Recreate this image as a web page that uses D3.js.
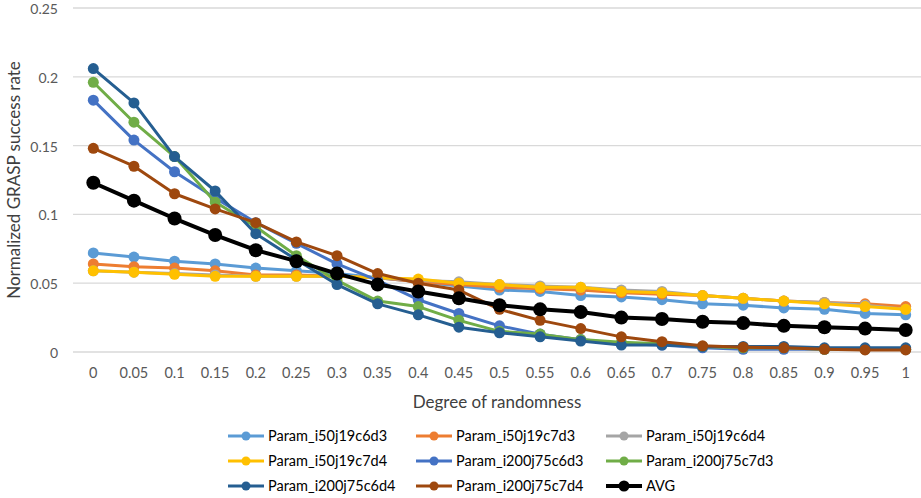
<!DOCTYPE html>
<html>
<head>
<meta charset="utf-8">
<script src="https://cdn.jsdelivr.net/npm/d3@7"></script>
<style>
  body { margin: 0; background: #fff; }
  svg { font-family: Lato, "Open Sans", sans-serif; }
</style>
</head>
<body>
<svg id="chart" width="921" height="498"></svg>
<script>
// degree of randomness (x categories)
const categories = ["0","0.05","0.1","0.15","0.2","0.25","0.3","0.35","0.4","0.45","0.5",
                    "0.55","0.6","0.65","0.7","0.75","0.8","0.85","0.9","0.95","1"];

const seriesNames = ["Param_i50j19c6d3","Param_i50j19c7d3","Param_i50j19c6d4",
                     "Param_i50j19c7d4","Param_i200j75c6d3","Param_i200j75c7d3",
                     "Param_i200j75c6d4","Param_i200j75c7d4","AVG"];

const i50j19c6d3  = [0.072,0.069,0.066,0.064,0.061,0.059,0.057,0.054,0.051,0.048,0.045,0.044,0.041,0.040,0.038,0.035,0.034,0.032,0.031,0.028,0.027];
const i50j19c7d3  = [0.064,0.062,0.061,0.059,0.056,0.056,0.055,0.054,0.051,0.049,0.047,0.046,0.045,0.043,0.042,0.041,0.039,0.037,0.036,0.035,0.033];
const i50j19c6d4  = [0.059,0.058,0.057,0.056,0.055,0.055,0.055,0.054,0.052,0.051,0.049,0.048,0.047,0.045,0.044,0.041,0.039,0.037,0.036,0.034,0.031];
const i50j19c7d4  = [0.059,0.058,0.0565,0.055,0.055,0.055,0.055,0.054,0.053,0.050,0.049,0.047,0.047,0.044,0.043,0.041,0.039,0.037,0.035,0.033,0.031];
const i200j75c6d3 = [0.183,0.154,0.131,0.112,0.094,0.079,0.064,0.052,0.038,0.028,0.019,0.013,0.009,0.006,0.005,0.003,0.002,0.002,0.002,0.002,0.002];
const i200j75c7d3 = [0.196,0.167,0.142,0.109,0.091,0.070,0.052,0.037,0.033,0.023,0.015,0.013,0.009,0.007,0.006,0.004,0.003,0.003,0.002,0.002,0.002];
const i200j75c6d4 = [0.206,0.181,0.142,0.117,0.086,0.067,0.049,0.035,0.027,0.018,0.014,0.011,0.008,0.005,0.005,0.004,0.004,0.004,0.003,0.003,0.003];
const i200j75c7d4 = [0.148,0.135,0.115,0.104,0.094,0.080,0.070,0.057,0.050,0.045,0.031,0.023,0.017,0.011,0.0075,0.0045,0.0035,0.003,0.002,0.0015,0.0015];
const avg         = [0.123,0.110,0.097,0.085,0.074,0.066,0.057,0.049,0.044,0.039,0.034,0.031,0.029,0.025,0.024,0.022,0.021,0.019,0.018,0.017,0.016];

const yTicks = [0, 0.05, 0.1, 0.15, 0.2, 0.25];

const values = [i50j19c6d3, i50j19c7d3, i50j19c6d4, i50j19c7d4,
                i200j75c6d3, i200j75c7d3, i200j75c6d4, i200j75c7d4, avg];
const colors = ["#5B9BD5","#ED7D31","#A5A5A5","#FFC000","#4472C4","#70AD47","#255E91","#9E480E","#000000"];

const svg = d3.select("#chart");
const plotLeft = 73, plotRight = 926, plotTop = 8, plotBottom = 352;

const x = d3.scalePoint().domain(categories).range([plotLeft, plotRight]).padding(0.5);
const y = d3.scaleLinear().domain([0, 0.25]).range([plotBottom, plotTop]);

// gridlines
svg.append("g")
  .selectAll("line")
  .data(yTicks)
  .join("line")
  .attr("x1", plotLeft).attr("x2", 921)
  .attr("y1", d => y(d)).attr("y2", d => y(d))
  .attr("stroke", "#d9d9d9").attr("stroke-width", 1.3);

// y tick labels
svg.append("g")
  .selectAll("text")
  .data(yTicks)
  .join("text")
  .attr("x", 58).attr("y", d => y(d) + 1)
  .attr("dy", "0.35em")
  .attr("text-anchor", "end")
  .attr("font-size", 14)
  .attr("fill", "#595959")
  .text(d => d);

// x tick labels
svg.append("g")
  .selectAll("text")
  .data(categories)
  .join("text")
  .attr("x", d => x(d)).attr("y", 378)
  .attr("text-anchor", "middle")
  .attr("font-size", 14.5)
  .attr("fill", "#595959")
  .text(d => d);

// axis titles
svg.append("text")
  .attr("x", (plotLeft + 921) / 2).attr("y", 408)
  .attr("text-anchor", "middle")
  .attr("font-size", 17)
  .attr("fill", "#404040")
  .text("Degree of randomness");

svg.append("text")
  .attr("transform", "translate(14," + ((plotTop + plotBottom) / 2) + ") rotate(-90)")
  .attr("text-anchor", "middle")
  .attr("dy", "0.35em")
  .attr("font-size", 17)
  .attr("fill", "#404040")
  .text("Normalized GRASP success rate");

// lines and markers
const line = d3.line().x((d, i) => x(categories[i])).y(d => y(d));

values.forEach((vals, k) => {
  const isAvg = k === values.length - 1;
  const g = svg.append("g");
  g.append("path")
    .datum(vals)
    .attr("d", line)
    .attr("fill", "none")
    .attr("stroke", colors[k])
    .attr("stroke-width", isAvg ? 4 : 3)
    .attr("stroke-linejoin", "round");
  g.selectAll("circle")
    .data(vals)
    .join("circle")
    .attr("cx", (d, i) => x(categories[i]))
    .attr("cy", d => y(d))
    .attr("r", isAvg ? 7 : 5.5)
    .attr("fill", colors[k]);
});

// legend
const legCols = [228, 416, 606];
const legRows = [436, 461, 486];
const leg = svg.append("g")
  .selectAll("g")
  .data(seriesNames)
  .join("g")
  .attr("transform", (d, i) => "translate(" + legCols[i % 3] + "," + legRows[Math.floor(i / 3)] + ")");

leg.append("line")
  .attr("x1", 0).attr("x2", 36)
  .attr("stroke", (d, i) => colors[i])
  .attr("stroke-width", (d, i) => i === 8 ? 4 : 3);
leg.append("circle")
  .attr("cx", 18).attr("r", (d, i) => i === 8 ? 5.5 : 4.5)
  .attr("fill", (d, i) => colors[i]);
leg.append("text")
  .attr("x", 40).attr("dy", "0.35em")
  .attr("font-size", 14.5)
  .attr("fill", "#000")
  .text(d => d);
</script>
</body>
</html>
